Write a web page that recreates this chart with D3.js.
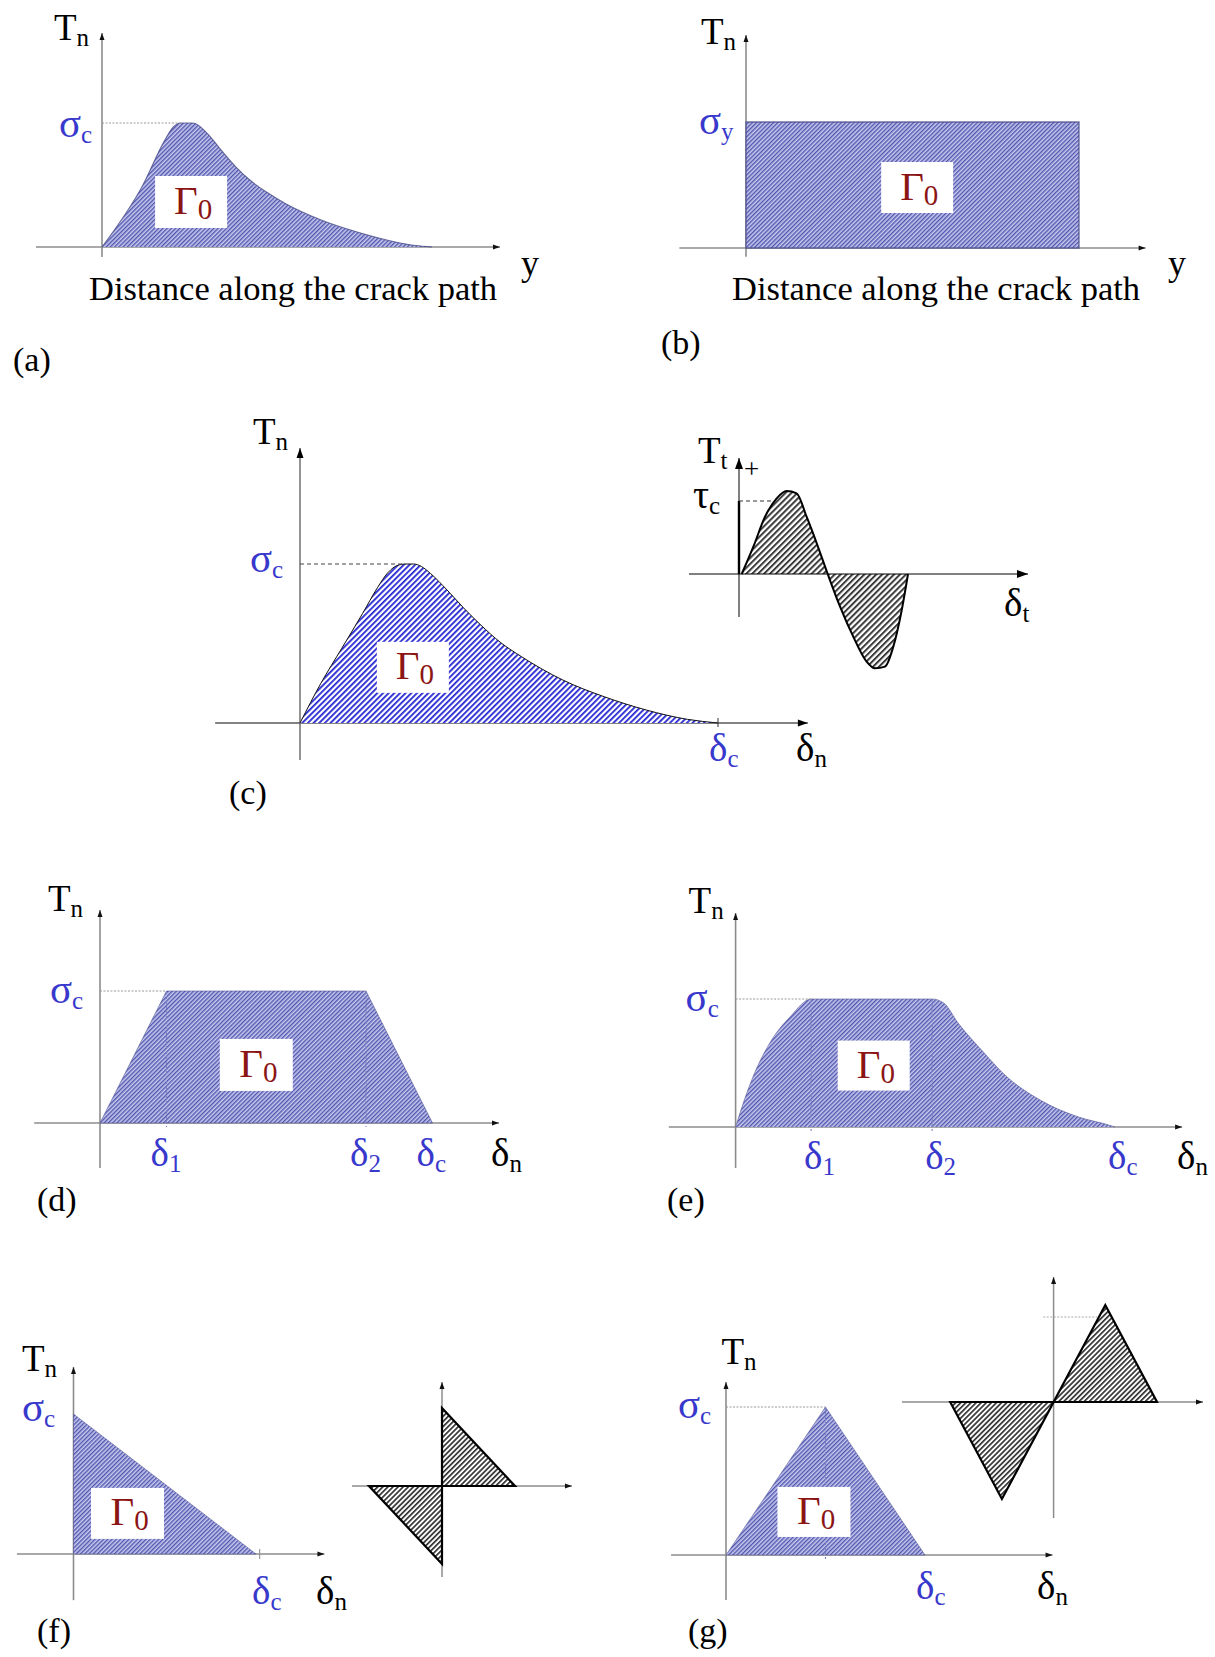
<!DOCTYPE html>
<html>
<head>
<meta charset="utf-8">
<script src="https://cdn.jsdelivr.net/npm/d3@7"></script>
<style>
  html, body { margin: 0; padding: 0; background: #fff; }
  svg { display: block; }
  text { font-family: "Liberation Serif", "Times New Roman", serif; }
</style>
</head>
<body>
<script>
// ---------------- data: traction-separation laws (δ/δc on x, T/σc on y) ----------------
// (a) exponential-type traction profile along the crack path
const curveA = [[0,0],[0.124,0.5],[0.19,0.86],[0.215,0.965],[0.238,1],[0.276,1],[0.318,0.919],
                [0.361,0.782],[0.406,0.645],[0.448,0.54],[0.503,0.435],[0.558,0.347],[0.664,0.218],
                [0.773,0.121],[0.882,0.045],[0.95,0.012],[1,0]];
// (b) constant (Dugdale) traction
const rectB = [[0,0],[0,1],[1,1],[1,0]];
// (c) normal traction vs. normal opening
const curveC = [[0,0],[0.05,0.25],[0.1,0.47],[0.15,0.69],[0.185,0.85],[0.21,0.945],[0.235,0.993],
                [0.252,1],[0.272,1],[0.29,0.985],[0.312,0.941],[0.352,0.836],[0.391,0.725],[0.431,0.62],
                [0.48,0.506],[0.53,0.417],[0.629,0.27],[0.728,0.165],[0.828,0.082],[0.927,0.023],[1,0]];
// (c) tangential traction vs. tangential slip (T/τpeak)
const curveTt = [[0.016,0],[0.085,0.329],[0.154,0.69],[0.223,0.912],[0.282,1],[0.341,0.972],[0.4,0.69],
                 [0.46,0.37],[0.525,0],[0.598,-0.394],[0.676,-0.755],[0.755,-1.056],[0.805,-1.137],
                 [0.864,-1.116],[0.913,-0.876],[0.963,-0.434],[1,0]];
const tauC = 0.88;
// (d) trapezoidal law
const trapD = [[0,0],[0.2,1],[0.8,1],[1,0]];
// (e) smoothed trapezoidal law
const curveE = [[0,0],[0.017,0.159],[0.046,0.393],[0.095,0.68],[0.144,0.862],[0.199,1],[0.518,1],
                [0.548,0.97],[0.587,0.81],[0.656,0.576],[0.705,0.42],[0.803,0.21],[0.902,0.08],[0.99,0.01],[1,0]];
// (f) linear softening and its mixed-mode sketch
const triF = [[0,0],[0,1],[1,0]];
const insetFUp = [[0,0],[0,1],[1,0]];
const insetFDown = [[-1,0],[0,0],[0,-1]];
// (g) bilinear law and its mixed-mode sketch
const triG = [[0,0],[0.5,1],[1,0]];
const insetGUp = [[0,0],[0.5,1],[1,0]];
const insetGDown = [[-1,0],[-0.5,-1],[0,0]];
const insetGPeakLevel = 0.876;

// tick values and their subscripts
const ticksD = [0.2, 0.8, 1];
const ticksE = [0.199, 0.518, 1];
const tickSubs = ["1", "2", "c"];
const panelTags = ["(a)", "(b)", "(c)", "(d)", "(e)", "(f)", "(g)"];
const pathCaption = "Distance along the crack path";

// ---------------- drawing ----------------
const BLUE = "#3838cc", RED = "#8b1414";
const svg = d3.select("body").append("svg").attr("width", 1215).attr("height", 1657);
const defs = svg.append("defs");

function hatch(id, period, color, width, bg) {
  const p = defs.append("pattern").attr("id", id).attr("patternUnits", "userSpaceOnUse")
    .attr("width", period).attr("height", period).attr("patternTransform", "rotate(45)");
  p.append("rect").attr("width", period).attr("height", period).attr("fill", bg);
  p.append("rect").attr("width", width).attr("height", period).attr("fill", color);
}
hatch("fineBlue", 3, "#5156ae", 1.4, "#c7c9ee");
hatch("boldBlue", 4, "#2626d2", 1.8, "#ffffff");
hatch("greyT", 4.2, "#3a3a3a", 2.0, "#ffffff");
hatch("greyI", 3.6, "#333333", 1.7, "#ffffff");

function arrowHead(g, x, y, dir, len, wid, color) {
  const pts = dir === "right"
    ? [[x, y], [x - len, y - wid / 2], [x - len, y + wid / 2]]
    : [[x, y], [x - wid / 2, y + len], [x + wid / 2, y + len]];
  g.append("path").attr("d", d3.line()(pts) + "Z").attr("fill", color);
}

function axes(g, sx, sy, xr, yr, st) {
  g.append("line").attr("x1", sx(xr[0])).attr("x2", sx(xr[1])).attr("y1", sy(0)).attr("y2", sy(0))
    .attr("stroke", st.color).attr("stroke-width", st.width);
  g.append("line").attr("x1", sx(0)).attr("x2", sx(0)).attr("y1", sy(yr[0])).attr("y2", sy(yr[1]))
    .attr("stroke", st.color).attr("stroke-width", st.width);
  arrowHead(g, sx(xr[1]), sy(0), "right", st.len, st.wid, st.head);
  arrowHead(g, sx(0), sy(yr[1]), "up", st.len, st.wid, st.head);
}

// glyph sizes: Greek letters are set larger so they read like symbol-font glyphs
const SIZE = { "T": 37, "σ": 41, "δ": 39, "τ": 40, "Γ": 41 };
function subLabel(g, x, y, main, s, color, size, subSize, dy) {
  const t = g.append("text").attr("x", x).attr("y", y).attr("fill", color || "#000")
    .attr("font-size", size || SIZE[main] || 35);
  t.append("tspan").text(main);
  t.append("tspan").attr("font-size", subSize || 25).attr("dy", dy || 6).text(s);
  return t;
}

function gammaBox(g, cx, cy, w, h) {
  g.append("rect").attr("x", cx - w / 2).attr("y", cy - h / 2).attr("width", w).attr("height", h)
    .attr("fill", "#fff");
  subLabel(g, cx - 17, cy + 12, "Γ", "0", RED, 41, 29, 5);
}

function tag(g, x, y, s) {
  g.append("text").attr("x", x).attr("y", y).attr("font-size", 34).attr("fill", "#000").text(s);
}

function dashed(g, x1, y1, x2, y2, color, dash, w) {
  g.append("line").attr("x1", x1).attr("y1", y1).attr("x2", x2).attr("y2", y2)
    .attr("stroke", color).attr("stroke-dasharray", dash).attr("stroke-width", w || 1.2);
}

const greyAxis = { color: "#8c8c8c", width: 1.6, head: "#111", len: 7, wid: 5 };

// ---------- (a) ----------
{
  const g = svg.append("g");
  const x = d3.scaleLinear().domain([0, 1]).range([102, 432]);
  const y = d3.scaleLinear().domain([0, 1]).range([247, 123]);
  axes(g, x, y, [-0.2, 1.206], [-0.08, 1.726], greyAxis);
  g.append("path").datum(curveA)
    .attr("d", d3.area().x(d => x(d[0])).y0(y(0)).y1(d => y(d[1])).curve(d3.curveMonotoneX))
    .attr("fill", "url(#fineBlue)");
  g.append("path").datum(curveA)
    .attr("d", d3.line().x(d => x(d[0])).y(d => y(d[1])).curve(d3.curveMonotoneX))
    .attr("fill", "none").attr("stroke", "#3f437f").attr("stroke-width", 1.1).attr("opacity", 0.75);
  dashed(g, x(0), y(1), x(0.238), y(1), "#9a9a9a", "2,1.5");
  subLabel(g, x(0) - 48, 40, "T", "n");
  subLabel(g, x(0) - 43, y(1) + 14, "σ", "c", BLUE);
  gammaBox(g, x(0.27), y(0.363), 72, 52);
  g.append("text").attr("x", 89).attr("y", 300).attr("font-size", 34.5).text(pathCaption);
  g.append("text").attr("x", 521).attr("y", 275).attr("font-size", 36).text("y");
  tag(g, 13, 371, panelTags[0]);
}

// ---------- (b) ----------
{
  const g = svg.append("g");
  const x = d3.scaleLinear().domain([0, 1]).range([746, 1079]);
  const y = d3.scaleLinear().domain([0, 1]).range([248, 122]);
  axes(g, x, y, [-0.2, 1.2], [-0.07, 1.69], greyAxis);
  g.append("path").datum(rectB)
    .attr("d", d3.line().x(d => x(d[0])).y(d => y(d[1])).curve(d3.curveLinearClosed))
    .attr("fill", "url(#fineBlue)").attr("stroke", "#4a4e8c").attr("stroke-width", 1.4)
    .attr("stroke-opacity", 0.8);
  subLabel(g, x(0) - 45, 44, "T", "n");
  subLabel(g, x(0) - 47, y(1) + 12, "σ", "y", BLUE);
  gammaBox(g, x(0.514), y(0.48), 72, 51);
  g.append("text").attr("x", 732).attr("y", 300).attr("font-size", 34.5).text(pathCaption);
  g.append("text").attr("x", 1168).attr("y", 275).attr("font-size", 36).text("y");
  tag(g, 661, 354, panelTags[1]);
}

// ---------- (c) normal ----------
{
  const g = svg.append("g");
  const x = d3.scaleLinear().domain([0, 1]).range([300, 718]);
  const y = d3.scaleLinear().domain([0, 1]).range([723, 564]);
  axes(g, x, y, [-0.203, 1.215], [-0.233, 1.73],
       { color: "#5a5a5a", width: 1.3, head: "#000", len: 10, wid: 7 });
  g.append("path").datum(curveC)
    .attr("d", d3.area().x(d => x(d[0])).y0(y(0)).y1(d => y(d[1])).curve(d3.curveMonotoneX))
    .attr("fill", "url(#boldBlue)");
  g.append("path").datum(curveC)
    .attr("d", d3.line().x(d => x(d[0])).y(d => y(d[1])).curve(d3.curveMonotoneX))
    .attr("fill", "none").attr("stroke", "#111").attr("stroke-width", 1);
  g.append("line").attr("x1", x(1)).attr("x2", x(1)).attr("y1", y(0) - 5).attr("y2", y(0) + 4)
    .attr("stroke", "#333").attr("stroke-width", 1);
  dashed(g, x(0), y(1), x(0.252), y(1), "#444", "4,3", 1.1);
  subLabel(g, x(0) - 47, 444, "T", "n");
  subLabel(g, x(0) - 50, y(1) + 8, "σ", "c", BLUE);
  gammaBox(g, x(0.270), y(0.35), 72, 51);
  subLabel(g, x(1) - 9, 761, "δ", "c", BLUE);
  subLabel(g, 796, 761, "δ", "n");
  tag(g, 229, 804, panelTags[2]);
}

// ---------- (c) tangential ----------
{
  const g = svg.append("g");
  const x = d3.scaleLinear().domain([0, 1]).range([739, 908]);
  const y = d3.scaleLinear().domain([0, 1]).range([574, 491]);
  g.append("path").datum(curveTt)
    .attr("d", d3.area().x(d => x(d[0])).y0(y(0)).y1(d => y(d[1])).curve(d3.curveMonotoneX))
    .attr("fill", "url(#greyT)");
  axes(g, x, y, [-0.296, 1.71], [-0.518, 1.398],
       { color: "#000", width: 1, head: "#000", len: 11, wid: 8 });
  g.append("line").attr("x1", x(0)).attr("x2", x(0)).attr("y1", y(0)).attr("y2", y(tauC))
    .attr("stroke", "#000").attr("stroke-width", 2.4);
  g.append("path").datum(curveTt)
    .attr("d", d3.line().x(d => x(d[0])).y(d => y(d[1])).curve(d3.curveMonotoneX))
    .attr("fill", "none").attr("stroke", "#000").attr("stroke-width", 2);
  dashed(g, x(0), y(tauC), x(0.195), y(tauC), "#333", "4,3", 1.1);
  subLabel(g, 698, 463, "T", "t");
  g.append("text").attr("x", 744).attr("y", 478).attr("font-size", 27).text("+");
  subLabel(g, 693, 508, "τ", "c");
  subLabel(g, 1004, 616, "δ", "t");
}

// ---------- (d) ----------
{
  const g = svg.append("g");
  const x = d3.scaleLinear().domain([0, 1]).range([100, 432.5]);
  const y = d3.scaleLinear().domain([0, 1]).range([1123, 991]);
  axes(g, x, y, [-0.198, 1.2], [-0.34, 1.614], greyAxis);
  g.append("path").datum(trapD)
    .attr("d", d3.line().x(d => x(d[0])).y(d => y(d[1])).curve(d3.curveLinearClosed))
    .attr("fill", "url(#fineBlue)").attr("stroke", "#4a4e8c").attr("stroke-width", 1)
    .attr("stroke-opacity", 0.55);
  ticksD.slice(0, 2).forEach(v =>
    dashed(g, x(v), y(1), x(v), y(0) + 4, "#7d82c4", "3,2", 1.1));
  dashed(g, x(0), y(1), x(ticksD[0]), y(1), "#9a9a9a", "2,1.5");
  subLabel(g, x(0) - 52, 911, "T", "n");
  subLabel(g, x(0) - 50, y(1) + 12, "σ", "c", BLUE);
  gammaBox(g, x(0.47), y(0.44), 73, 52);
  ticksD.forEach((v, i) => subLabel(g, x(v) - 16, 1166, "δ", tickSubs[i], BLUE));
  subLabel(g, 491, 1166, "δ", "n");
  tag(g, 37, 1211, panelTags[3]);
}

// ---------- (e) ----------
{
  const g = svg.append("g");
  const x = d3.scaleLinear().domain([0, 1]).range([735.6, 1115]);
  const y = d3.scaleLinear().domain([0, 1]).range([1127, 999]);
  axes(g, x, y, [-0.176, 1.177], [-0.32, 1.672], greyAxis);
  g.append("path").datum(curveE)
    .attr("d", d3.area().x(d => x(d[0])).y0(y(0)).y1(d => y(d[1])).curve(d3.curveMonotoneX))
    .attr("fill", "url(#fineBlue)");
  g.append("path").datum(curveE)
    .attr("d", d3.line().x(d => x(d[0])).y(d => y(d[1])).curve(d3.curveMonotoneX))
    .attr("fill", "none").attr("stroke", "#4a4e8c").attr("stroke-width", 1).attr("opacity", 0.55);
  ticksE.slice(0, 2).forEach(v =>
    dashed(g, x(v), y(1), x(v), y(0) + 4, "#7d82c4", "3,2", 1.1));
  dashed(g, x(0), y(1), x(ticksE[0]), y(1), "#9a9a9a", "2,1.5");
  subLabel(g, x(0) - 47, 913, "T", "n");
  subLabel(g, x(0) - 50, y(1) + 12, "σ", "c", BLUE);
  gammaBox(g, x(0.364), y(0.48), 72, 50);
  ticksE.forEach((v, i) => subLabel(g, x(v) - 7, 1169, "δ", tickSubs[i], BLUE));
  subLabel(g, 1177, 1169, "δ", "n");
  tag(g, 667, 1211, panelTags[4]);
}

// ---------- (f) ----------
{
  const g = svg.append("g");
  const x = d3.scaleLinear().domain([0, 1]).range([73.5, 256]);
  const y = d3.scaleLinear().domain([0, 1]).range([1554, 1414]);
  axes(g, x, y, [-0.31, 1.375], [-0.33, 1.336], greyAxis);
  g.append("path").datum(triF)
    .attr("d", d3.line().x(d => x(d[0])).y(d => y(d[1])).curve(d3.curveLinearClosed))
    .attr("fill", "url(#fineBlue)").attr("stroke", "#4a4e8c").attr("stroke-width", 1)
    .attr("stroke-opacity", 0.5);
  g.append("line").attr("x1", x(1.02)).attr("x2", x(1.02)).attr("y1", y(0) - 5).attr("y2", y(0) + 5)
    .attr("stroke", "#999").attr("stroke-width", 1.2);
  subLabel(g, 22, 1371, "T", "n");
  subLabel(g, 22, y(1) + 7, "σ", "c", BLUE);
  gammaBox(g, x(0.296), y(0.29), 73, 51);
  subLabel(g, x(1) - 4, 1604, "δ", "c", BLUE);
  subLabel(g, 316, 1604, "δ", "n");
  tag(g, 37, 1642, panelTags[5]);

  // mixed-mode sketch
  const xi = d3.scaleLinear().domain([0, 1]).range([442, 515]);
  const yi = d3.scaleLinear().domain([0, 1]).range([1486, 1408]);
  axes(g, xi, yi, [-1.233, 1.78], [-1.167, 1.333],
       { color: "#8c8c8c", width: 1.5, head: "#111", len: 7, wid: 5 });
  [insetFUp, insetFDown].forEach(tri =>
    g.append("path").datum(tri)
      .attr("d", d3.line().x(d => xi(d[0])).y(d => yi(d[1])).curve(d3.curveLinearClosed))
      .attr("fill", "url(#greyI)").attr("stroke", "#000").attr("stroke-width", 2.2)
      .attr("stroke-linejoin", "miter"));
}

// ---------- (g) ----------
{
  const g = svg.append("g");
  const x = d3.scaleLinear().domain([0, 1]).range([726, 925]);
  const y = d3.scaleLinear().domain([0, 1]).range([1555, 1407]);
  axes(g, x, y, [-0.276, 1.641], [-0.304, 1.169], greyAxis);
  g.append("path").datum(triG)
    .attr("d", d3.line().x(d => x(d[0])).y(d => y(d[1])).curve(d3.curveLinearClosed))
    .attr("fill", "url(#fineBlue)").attr("stroke", "#4a4e8c").attr("stroke-width", 1)
    .attr("stroke-opacity", 0.5);
  dashed(g, x(0.5), y(1), x(0.5), y(0) + 4, "#7d82c4", "3,2", 1.1);
  dashed(g, x(0), y(1), x(0.5), y(1), "#9a9a9a", "2,1.5");
  subLabel(g, 721.5, 1364, "T", "n");
  subLabel(g, x(0) - 48, y(1) + 11, "σ", "c", BLUE);
  gammaBox(g, x(0.442), y(0.291), 73, 50);
  subLabel(g, x(1) - 9, 1599, "δ", "c", BLUE);
  subLabel(g, 1037, 1599, "δ", "n");
  tag(g, 688, 1642, panelTags[6]);

  // mixed-mode sketch
  const xi = d3.scaleLinear().domain([0, 1]).range([1053.6, 1157]);
  const yi = d3.scaleLinear().domain([0, 1]).range([1402, 1305]);
  axes(g, xi, yi, [-1.466, 1.445], [-1.196, 1.289],
       { color: "#8c8c8c", width: 1.5, head: "#111", len: 7, wid: 5 });
  dashed(g, xi(-0.1), yi(insetGPeakLevel), xi(0.42), yi(insetGPeakLevel), "#aaa", "2,1.5", 1.1);
  [insetGUp, insetGDown].forEach(tri =>
    g.append("path").datum(tri)
      .attr("d", d3.line().x(d => xi(d[0])).y(d => yi(d[1])).curve(d3.curveLinearClosed))
      .attr("fill", "url(#greyI)").attr("stroke", "#000").attr("stroke-width", 2.2)
      .attr("stroke-linejoin", "miter"));
}
</script>
</body>
</html>
